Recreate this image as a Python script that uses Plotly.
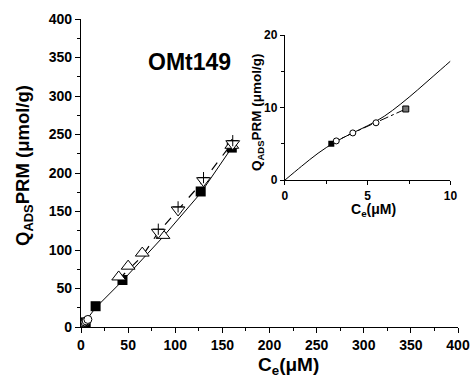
import plotly.graph_objects as go

# ---- data ----
sq_x = [5, 15.5, 44, 127, 160]
sq_y = [6, 27, 61, 176, 233]
tu_x = [40, 50, 65, 87, 160]
tu_y = [65, 79, 96, 119, 236]
td_x = [82, 103, 130, 161]
td_y = [123, 152, 190, 238]
cr_x = [82, 103, 130, 161]
cr_y = [127, 156, 194, 242]
ci_x = [3.1, 4.1, 5.5, 7.3]
ci_y = [5.4, 6.5, 7.9, 9.8]
fit_main_x = [0, 15.5, 44, 87, 127, 160]
fit_main_y = [0, 25, 60, 117, 174, 233]
dash_main_x = [40, 65, 82, 103, 130, 161]
dash_main_y = [62, 92, 123, 152, 190, 240]

in_sq_x = [2.8]
in_sq_y = [5.0]
in_ci_x = [3.1, 4.1, 5.5]
in_ci_y = [5.4, 6.5, 7.9]
in_end_x = [7.3]
in_end_y = [9.8]
in_dd_x = [2.8, 3.1, 4.1, 5.5, 7.3]
in_dd_y = [5.0, 5.4, 6.5, 7.9, 9.8]
in_fit_x = [0, 1, 2, 3, 4, 5, 6, 7, 8, 9, 10]
in_fit_y = [0, 1.9, 3.7, 5.2, 6.4, 7.5, 8.8, 10.5, 12.4, 14.4, 16.4]

main_ticks = [0, 50, 100, 150, 200, 250, 300, 350, 400]
inset_xticks = [0, 5, 10]
inset_yticks = [0, 10, 20]

FONT = "Liberation Sans"
fig = go.Figure()

# main chart
fig.add_trace(go.Scatter(x=fit_main_x, y=fit_main_y, mode="lines",
                         line=dict(color="black", width=1), xaxis="x", yaxis="y"))
fig.add_trace(go.Scatter(x=dash_main_x, y=dash_main_y, mode="lines",
                         line=dict(color="black", width=1.2, dash="dash"), xaxis="x", yaxis="y"))
fig.add_trace(go.Scatter(x=sq_x, y=sq_y, mode="markers",
                         marker=dict(symbol="square", size=10, color="black"), xaxis="x", yaxis="y"))
fig.add_trace(go.Scatter(x=tu_x, y=tu_y, mode="markers",
                         marker=dict(symbol="triangle-up", size=12, color="white",
                                     line=dict(color="black", width=1)), xaxis="x", yaxis="y"))
fig.add_trace(go.Scatter(x=td_x, y=td_y, mode="markers",
                         marker=dict(symbol="triangle-down", size=12, color="white",
                                     line=dict(color="black", width=1)), xaxis="x", yaxis="y"))
fig.add_trace(go.Scatter(x=cr_x, y=cr_y, mode="markers",
                         marker=dict(symbol="cross-thin", size=8,
                                     line=dict(color="black", width=1)), xaxis="x", yaxis="y"))
fig.add_trace(go.Scatter(x=ci_x, y=ci_y, mode="markers",
                         marker=dict(symbol="circle", size=8, color="white",
                                     line=dict(color="black", width=1)), xaxis="x", yaxis="y"))

# inset
fig.add_trace(go.Scatter(x=in_fit_x, y=in_fit_y, mode="lines", line_shape="spline",
                         line=dict(color="black", width=1), xaxis="x2", yaxis="y2"))
fig.add_trace(go.Scatter(x=in_dd_x, y=in_dd_y, mode="lines",
                         line=dict(color="black", width=1, dash="dashdot"), xaxis="x2", yaxis="y2"))
fig.add_trace(go.Scatter(x=in_sq_x, y=in_sq_y, mode="markers",
                         marker=dict(symbol="square", size=6, color="black"), xaxis="x2", yaxis="y2"))
fig.add_trace(go.Scatter(x=in_ci_x, y=in_ci_y, mode="markers",
                         marker=dict(symbol="circle", size=6, color="white",
                                     line=dict(color="black", width=1)), xaxis="x2", yaxis="y2"))
fig.add_trace(go.Scatter(x=in_end_x, y=in_end_y, mode="markers",
                         marker=dict(symbol="square", size=6, color="#777",
                                     line=dict(color="black", width=1)), xaxis="x2", yaxis="y2"))

ax_common = dict(showgrid=False, zeroline=False, showline=True, linecolor="black",
                 linewidth=1.3, ticks="outside", tickcolor="black", tickwidth=1.3,
                 mirror=False, automargin=False)


def bold(vals):
    return ["<b>%g</b>" % v for v in vals]


def px_x(p):
    return (p - 81) / 377.0


def px_y(p):
    return (327 - p) / 308.0


fig.update_layout(
    width=476, height=383,
    margin=dict(l=81, r=18, t=19, b=56),
    paper_bgcolor="white", plot_bgcolor="white",
    showlegend=False,
    font=dict(family=FONT, color="black"),
    xaxis=dict(**ax_common, range=[0, 400], tickvals=main_ticks, ticktext=bold(main_ticks), ticklen=5,
               minor=dict(dtick=25, ticks="outside", ticklen=3, tickcolor="black", tickwidth=1.3),
               tickfont=dict(size=14, family=FONT),
               domain=[0, 1]),
    yaxis=dict(**ax_common, range=[0, 400], tickvals=main_ticks, ticktext=bold(main_ticks), ticklen=5,
               minor=dict(dtick=25, ticks="outside", ticklen=3, tickcolor="black", tickwidth=1.3),
               tickfont=dict(size=14, family=FONT),
               domain=[0, 1]),
    xaxis2=dict(**ax_common, range=[0, 10], tickvals=inset_xticks, ticktext=bold(inset_xticks), ticklen=4,
                minor=dict(dtick=2.5, ticks="outside", ticklen=3, tickcolor="black", tickwidth=1),
                tickfont=dict(size=12, family=FONT),
                domain=[0.541, 0.98], anchor="y2"),
    yaxis2=dict(**ax_common, range=[0, 20], tickvals=inset_yticks, ticktext=bold(inset_yticks), ticklen=4,
                minor=dict(dtick=5, ticks="outside", ticklen=3, tickcolor="black", tickwidth=1),
                tickfont=dict(size=12, family=FONT),
                domain=[0.477, 0.948], anchor="x2"),
    annotations=[
        dict(text="<b>OMt149</b>", x=px_x(189.5), y=px_y(62), xref="paper", yref="paper",
             xanchor="center", yanchor="middle",
             showarrow=False, font=dict(size=23, family=FONT)),
        dict(text="<b>C<sub>e</sub>(μM)</b>", x=px_x(288), y=px_y(366), xref="paper", yref="paper",
             xanchor="center", yanchor="middle",
             showarrow=False, font=dict(size=19, family=FONT)),
        dict(text="<b>Q<sub>ADS</sub>PRM (μmol/g)</b>", x=px_x(24), y=px_y(166), xref="paper", yref="paper",
             xanchor="center", yanchor="middle", textangle=-90,
             showarrow=False, font=dict(size=18.5, family=FONT)),
        dict(text="<b>C<sub>e</sub>(μM)</b>", x=px_x(373), y=px_y(210), xref="paper", yref="paper",
             xanchor="center", yanchor="middle",
             showarrow=False, font=dict(size=14, family=FONT)),
        dict(text="<b>Q<sub>ADS</sub>PRM (μmol/g)</b>", x=px_x(257), y=px_y(113), xref="paper", yref="paper",
             xanchor="center", yanchor="middle", textangle=-90,
             showarrow=False, font=dict(size=13.5, family=FONT)),
    ],
)

fig.write_html("out.html", config=dict(displayModeBar=False),
               post_script="document.body.style.margin='0';document.body.style.overflow='hidden';")
